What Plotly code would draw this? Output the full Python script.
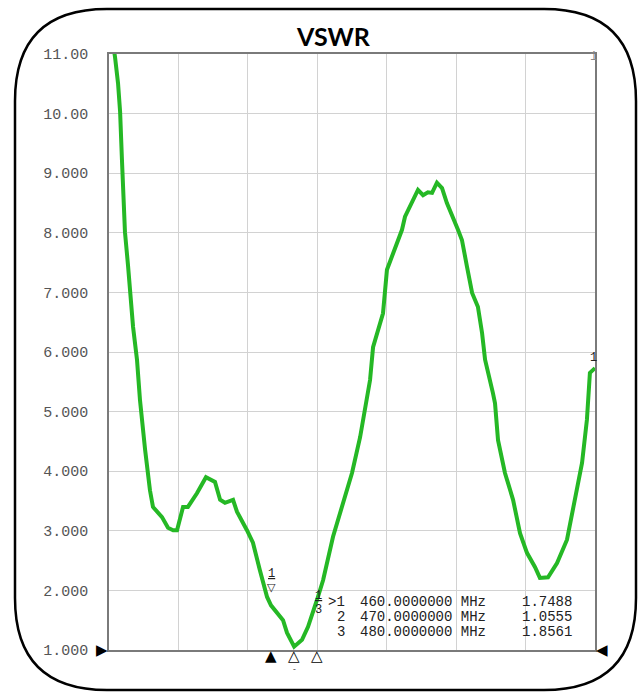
import plotly.graph_objects as go

# ---- data ----
freq_mhz = [390.0, 392.6, 393.9, 394.8, 395.6, 396.0, 396.9, 398.2, 399.1, 400.4, 402.1, 403.4,
            405.6, 407.7, 409.0, 412.9, 415.5, 417.7, 419.4, 422.0, 424.1, 428.0, 431.9, 435.8,
            438.0, 440.1, 443.6, 445.3, 449.6, 452.2, 455.2, 458.3, 460.0, 465.2, 466.9, 469.1,
            470.0, 473.4, 476.0, 480.0, 482.5, 486.8, 491.1, 495.0, 498.5, 500.6, 502.8, 504.1,
            508.4, 510.1, 512.7, 516.6, 517.9, 521.4, 523.5, 525.7, 527.8, 529.6, 531.7, 533.9,
            536.0, 540.8, 542.5, 544.7, 546.0, 546.9, 549.4, 551.2, 552.5, 553.3, 555.9, 556.8,
            558.1, 561.1, 564.6, 567.6, 570.6, 574.1, 576.2, 579.7, 583.6, 587.9, 590.5, 594.4,
            596.5, 597.8, 600.0]
vswr = [11.6, 10.95, 10.51, 10.03, 9.22, 8.72, 8.01, 7.46, 7.01, 6.42, 5.87, 5.19,
        4.36, 3.68, 3.40, 3.23, 3.05, 3.01, 3.01, 3.40, 3.40, 3.63, 3.90, 3.82,
        3.52, 3.47, 3.52, 3.32, 3.01, 2.80, 2.34, 1.89, 1.7488, 1.50, 1.29, 1.13,
        1.0555, 1.17, 1.39, 1.8561, 2.17, 2.90, 3.47, 3.97, 4.57, 5.03, 5.53, 6.08,
        6.65, 7.38, 7.66, 8.05, 8.27, 8.55, 8.72, 8.63, 8.68, 8.67, 8.84, 8.75,
        8.50, 8.05, 7.88, 7.43, 7.21, 6.99, 6.76, 6.32, 5.87, 5.75, 5.31, 5.14,
        4.52, 3.97, 3.52, 2.96, 2.63, 2.39, 2.21, 2.22, 2.46, 2.85, 3.40, 4.14,
        4.86, 5.65, 5.73]

marker_ids = ["1", "2", "3"]
marker_freq = [460.0, 470.0, 480.0]
marker_vswr = [1.7488, 1.0555, 1.8561]
marker_active = [True, False, False]

y_tickvals = [1, 2, 3, 4, 5, 6, 7, 8, 9, 10, 11]
y_ticktext = ["1.000", "2.000", "3.000", "4.000", "5.000", "6.000",
              "7.000", "8.000", "9.000", "10.00", "11.00"]
x_start, x_stop, x_div = 390.0, 600.0, 30.0

W, H = 639, 693
L, T = 109, 54
R = W - 595
B = H - 650
pw, ph = W - L - R, H - T - B


def px(xr):
    return (xr - L) / pw


def py(yr):
    return (H - B - yr) / ph


GREEN = "#25b825"
MONO = "Liberation Mono, DejaVu Sans Mono, monospace"
SYM = "DejaVu Sans"

fig = go.Figure()
fig.add_trace(go.Scatter(x=freq_mhz, y=vswr, mode="lines",
                         line=dict(color=GREEN, width=4), hoverinfo="skip",
                         showlegend=False))

ann = []
# title
ann.append(dict(text="<b>VSWR</b>", xref="paper", yref="paper",
                x=px(333), y=py(36), showarrow=False,
                xanchor="center", yanchor="middle",
                font=dict(family="Lato, Open Sans, sans-serif", size=25, color="black")))

# marker triangles under the x axis (data x, paper y)
for i in range(3):
    ann.append(dict(text="▲" if marker_active[i] else "△", x=marker_freq[i], xref="x",
                    y=py(656), yref="paper", showarrow=False, xanchor="center",
                    yanchor="middle", borderpad=0,
                    font=dict(family=SYM, size=15, color="black")))
ann.append(dict(text="-", x=marker_freq[1], xref="x", y=py(674), yref="paper",
                showarrow=False, borderpad=0, font=dict(family=MONO, size=8, color="#222")))

# reference level arrows
ann.append(dict(text="▶", x=px(102), xref="paper", y=1, yref="y", showarrow=False,
                xanchor="center", yanchor="middle", borderpad=0,
                font=dict(family=SYM, size=15, color="black")))
ann.append(dict(text="◀", x=px(602), xref="paper", y=1, yref="y", showarrow=False,
                xanchor="center", yanchor="middle", borderpad=0,
                font=dict(family=SYM, size=15, color="black")))

# marker table
row_y = [602, 617, 632]
for i in range(3):
    prefix = ">" + marker_ids[i] if marker_active[i] else marker_ids[i]
    common = dict(xref="paper", yref="paper", y=py(row_y[i]), yanchor="middle",
                  showarrow=False, borderpad=0)
    ann.append(dict(text=prefix, x=px(346), xanchor="right",
                    font=dict(family=MONO, size=14, color="#222"), **common))
    ann.append(dict(text=f"{marker_freq[i]:.7f} MHz", x=px(359), xanchor="left",
                    font=dict(family=MONO, size=14, color="#222"), **common))
    ann.append(dict(text=f"{marker_vswr[i]:.4f}", x=px(573), xanchor="right",
                    font=dict(family=MONO, size=14, color="#222"), **common))

# marker flags on the trace
ann.append(dict(text="<u>1</u>", x=marker_freq[0], y=py(582), yref="paper",
                showarrow=False, borderpad=0,
                font=dict(family=MONO, size=12, color="#222")))
ann.append(dict(text="▽", x=marker_freq[0], y=py(595), yref="paper",
                showarrow=False, borderpad=0,
                font=dict(family=SYM, size=11, color="#222")))
ann.append(dict(text="<u>1</u>", x=marker_freq[2] + 0.5, y=py(604), yref="paper",
                showarrow=False, borderpad=0,
                font=dict(family=MONO, size=12, color="#222")))
ann.append(dict(text="3", x=marker_freq[2] + 0.5, y=py(618), yref="paper",
                showarrow=False, borderpad=0,
                font=dict(family=MONO, size=12, color="#222")))

# small trace labels on the right border
ann.append(dict(text="1", x=px(598), xref="paper", y=py(49), yref="paper",
                showarrow=False, borderpad=0,
                font=dict(family=MONO, size=12, color="#888")))
ann.append(dict(text="1", x=px(598), xref="paper", y=vswr[-1] + 0.17, yref="y",
                showarrow=False, borderpad=0,
                font=dict(family=MONO, size=12, color="#222")))

# rounded outer frame
fl, fr, ft, fb, rad = 15, 636, 9, 690, 92
path = (f"M {px(fl + rad)},{py(ft)} L {px(fr - rad)},{py(ft)} "
        f"Q {px(fr)},{py(ft)} {px(fr)},{py(ft + rad)} "
        f"L {px(fr)},{py(fb - rad)} Q {px(fr)},{py(fb)} {px(fr - rad)},{py(fb)} "
        f"L {px(fl + rad)},{py(fb)} Q {px(fl)},{py(fb)} {px(fl)},{py(fb - rad)} "
        f"L {px(fl)},{py(ft + rad)} Q {px(fl)},{py(ft)} {px(fl + rad)},{py(ft)} Z")

fig.update_layout(
    width=W, height=H,
    margin=dict(l=L, r=R, t=T, b=B),
    paper_bgcolor="white", plot_bgcolor="white",
    annotations=ann,
    shapes=[dict(type="path", path=path, xref="paper", yref="paper",
                 line=dict(color="black", width=2.5), layer="below")],
    xaxis=dict(range=[x_start, x_stop], tick0=x_start, dtick=x_div,
               showticklabels=False, showgrid=True, gridcolor="#d2d2d2", gridwidth=1,
               zeroline=False, showline=True, linecolor="#7a7a7a", linewidth=1.5,
               mirror=True, ticks=""),
    yaxis=dict(range=[1, 11], tickvals=y_tickvals, ticktext=y_ticktext,
               showgrid=True, gridcolor="#d2d2d2", gridwidth=1, zeroline=False,
               showline=True, linecolor="#7a7a7a", linewidth=1.5, mirror=True,
               ticks="", ticklabelstandoff=16,
               tickfont=dict(family=MONO, size=15, color="#555")),
)

# place the figure at the window's top-left corner (no default body margin)
fig.write_html("out.html",
               config={"displayModeBar": False},
               post_script="document.body.style.margin='0';"
                           "document.body.style.overflow='hidden';")
